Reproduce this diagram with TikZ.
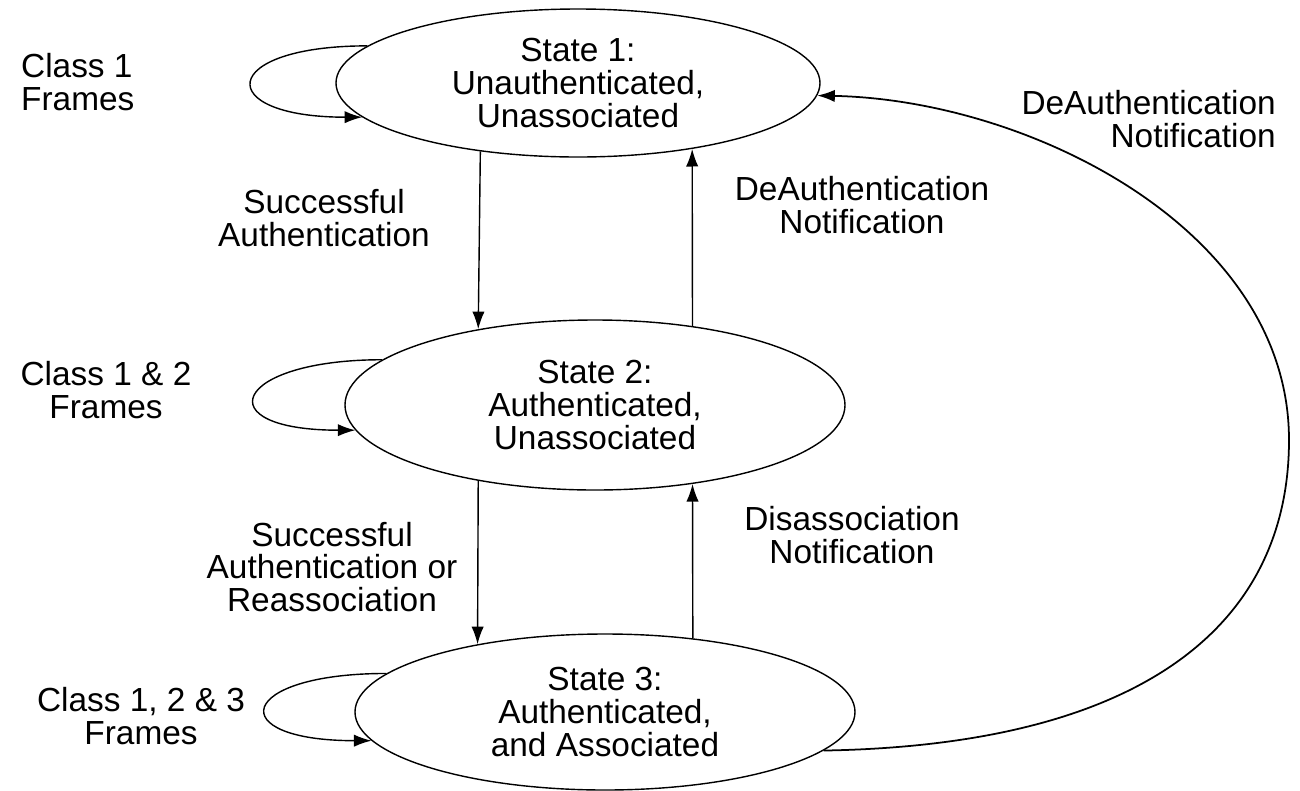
\documentclass[tikz,border=0pt]{standalone}
\usepackage{fontspec}
\setmainfont{Liberation Sans}
\usetikzlibrary{shapes.geometric, arrows.meta}

\begin{document}
\begin{tikzpicture}[> = {Latex[length = 10pt, width = 7pt]}, x = 0.2mm, y = -0.2mm,
	every node/.style = {font = {\fontsize{19}{18.5}\selectfont}, align = center},
	state/.style = {draw, ellipse, line width = 0.8pt, inner sep = 0pt},
	wire/.style = {line width = 0.8pt}]

	\useasboundingbox (0, 0) rectangle (1300, 790);

	% States

	\node [state, minimum width = 96.8mm, minimum height = 29.6mm] (s1) at (578, 83) {State 1:\\Unauthenticated,\\Unassociated};
	\node [state, minimum width = 100mm, minimum height = 34mm] (s2) at (595, 405) {State 2:\\Authenticated,\\Unassociated};
	\node [state, minimum width = 100mm, minimum height = 31.2mm] (s3) at (605, 712) {State 3:\\Authenticated,\\and Associated};

	% Frame classes with self loops

	\node [align = left, anchor = west] (f1) at (15, 82) {Class 1\\Frames};
	\node (f2) at (106, 390) {Class 1 \& 2\\Frames};
	\node (f3) at (141, 716) {Class 1, 2 \& 3\\Frames};

	\draw [wire, ->] (s1.170) .. controls +(-150, 0) and +(-150, 0) .. (s1.189);
	\draw [wire, ->] (s2.168) .. controls +(-150, 0) and +(-150, 0) .. (s2.186);
	\draw [wire, ->] (s3.170) .. controls +(-150, 0) and +(-150, 0) .. (s3.187);

	% Transitions between neighbouring states

	\draw [wire, ->] (s1.215) -- (s2.147);
	\draw [wire, ->] (s2.39) -- (s1.330);
	\draw [wire, ->] (s2.213) -- (s3.152);
	\draw [wire, ->] (s3.40) -- (s2.321);

	\node (t12) at (324, 218) {Successful\\Authentication};
	\node (t21) at (862, 205) {DeAuthentication\\Notification};
	\node (t23) at (332, 567) {Successful\\Authentication or\\Reassociation};
	\node (t32) at (852, 535) {Disassociation\\Notification};

	% Long way back from state 3

	\coordinate (bend) at (1289, 440);
	\draw [wire, line width = 1pt, ->] (s3.-10) .. controls (1150, 745) and (1289, 620) .. (bend) .. controls (1289, 230) and (1030, 100) .. (s1.-3);

	\node [align = right, anchor = east] (t31) at (1282, 119) {DeAuthentication\\Notification};

\end{tikzpicture}
\end{document}
